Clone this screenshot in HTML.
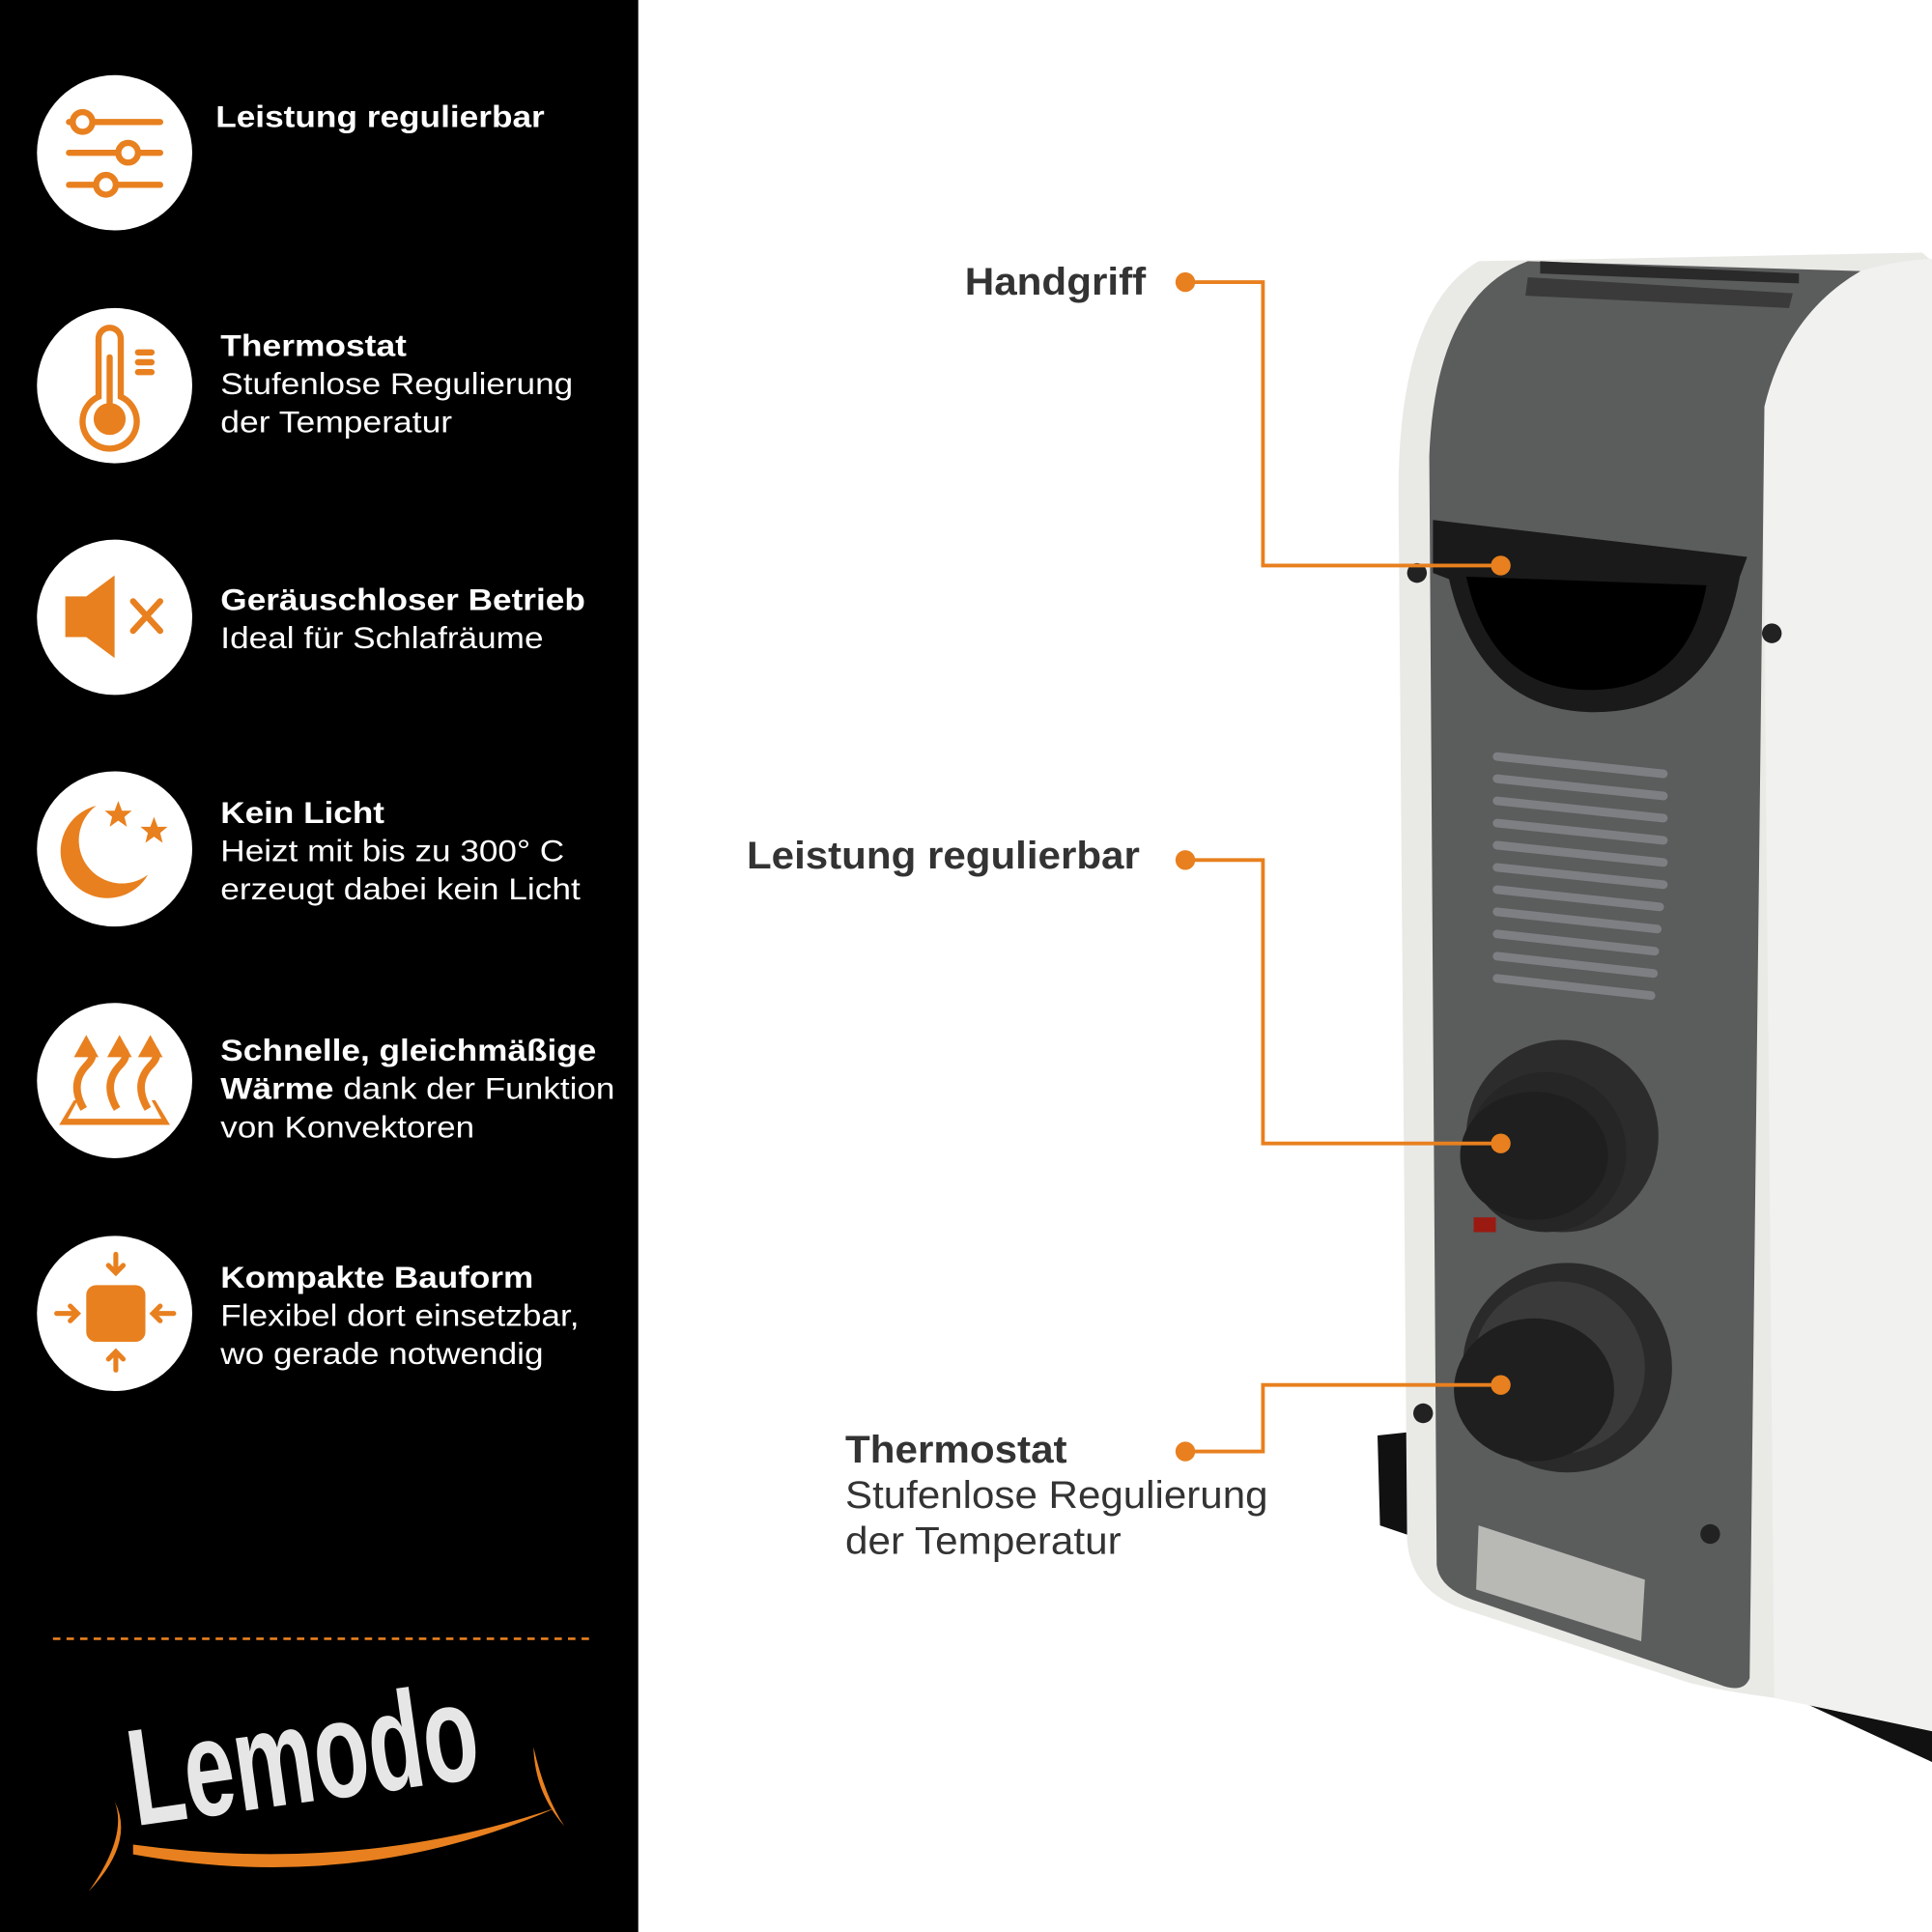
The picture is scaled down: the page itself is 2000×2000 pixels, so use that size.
<!DOCTYPE html>
<html><head><meta charset="utf-8"><style>html,body{margin:0;padding:0;background:#fff}svg{display:block}</style></head>
<body>
<svg width="2000" height="2000" viewBox="0 0 1568 1568" xmlns="http://www.w3.org/2000/svg" font-family="Liberation Sans, Arial, sans-serif">
<rect width="1568" height="1568" fill="#fff"/>
<rect width="518" height="1568" fill="#000"/>

<g fill="#fff">
<circle cx="93" cy="124" r="63"/><circle cx="93" cy="313" r="63"/><circle cx="93" cy="501" r="63"/>
<circle cx="93" cy="689" r="63"/><circle cx="93" cy="877" r="63"/><circle cx="93" cy="1066" r="63"/>
</g>
<g fill="none" stroke="#e8801f" stroke-width="5" stroke-linecap="round">
 <line x1="56" y1="99" x2="130" y2="99"/><line x1="56" y1="124" x2="130" y2="124"/><line x1="56" y1="150" x2="130" y2="150"/>
 <circle cx="67" cy="99" r="8" fill="#fff"/><circle cx="104" cy="124" r="8" fill="#fff"/><circle cx="86" cy="150" r="8" fill="#fff"/>
 <path d="M80,322 L80,275 A9,9 0 0 1 98,275 L98,322 A22,22 0 1 1 80,322 Z"/>
 <line x1="89" y1="290" x2="89" y2="335"/>
 <line x1="112" y1="286" x2="123" y2="286"/><line x1="112" y1="294" x2="123" y2="294"/><line x1="112" y1="302" x2="123" y2="302"/>
 <line x1="108" y1="488" x2="130" y2="512"/><line x1="130" y1="488" x2="108" y2="512"/>
</g>
<circle cx="89" cy="340" r="13" fill="#e8801f"/>
<path d="M53,484 L70,484 L93,467 L93,534 L70,517 L53,517 Z" fill="#e8801f"/>
<path d="M78,654 A38,38 0 1 0 120,710 A32,32 0 1 1 78,654 Z" fill="#e8801f"/>
<polygon points="96,650 99,658 107,658 101,663 103,671 96,666 89,671 91,663 85,658 93,658" fill="#e8801f"/>
<polygon points="125,663 128,671 136,671 130,676 132,684 125,679 118,684 120,676 114,671 122,671" fill="#e8801f"/>
<g fill="none" stroke="#e8801f" stroke-width="6">
 <path d="M68,900 Q56,880 70,865 Q80,855 70,850"/><path d="M95,900 Q83,880 97,865 Q107,855 97,850"/><path d="M120,900 Q108,880 122,865 Q132,855 122,850"/>
</g>
<g fill="#e8801f">
 <polygon points="60,858 70,840 80,858"/><polygon points="87,858 97,840 107,858"/><polygon points="112,858 122,840 132,858"/>
 <polygon points="48,913 60,893 63,893 55,908 131,908 123,893 126,893 138,913"/>
</g>
<rect x="70" y="1043" width="48" height="46" rx="8" fill="#e8801f"/>
<g fill="none" stroke="#e8801f" stroke-width="4" stroke-linecap="round">
 <line x1="94" y1="1018" x2="94" y2="1032"/><polyline points="88,1027 94,1033 100,1027"/>
 <line x1="94" y1="1112" x2="94" y2="1098"/><polyline points="88,1103 94,1097 100,1103"/>
 <line x1="46" y1="1066" x2="62" y2="1066"/><polyline points="57,1060 63,1066 57,1072"/>
 <line x1="141" y1="1066" x2="125" y2="1066"/><polyline points="130,1060 124,1066 130,1072"/>
</g>

<g fill="#fff" font-size="25">
<text x="175" y="103" font-weight="bold" textLength="267" lengthAdjust="spacingAndGlyphs">Leistung regulierbar</text>
<text x="179" y="289" font-weight="bold" textLength="151" lengthAdjust="spacingAndGlyphs">Thermostat</text>
<text x="179" y="320" textLength="286" lengthAdjust="spacingAndGlyphs">Stufenlose Regulierung</text>
<text x="179" y="351" textLength="188" lengthAdjust="spacingAndGlyphs">der Temperatur</text>
<text x="179" y="495" font-weight="bold" textLength="296" lengthAdjust="spacingAndGlyphs">Geräuschloser Betrieb</text>
<text x="179" y="526" textLength="262" lengthAdjust="spacingAndGlyphs">Ideal für Schlafräume</text>
<text x="179" y="668" font-weight="bold" textLength="133" lengthAdjust="spacingAndGlyphs">Kein Licht</text>
<text x="179" y="699" textLength="279" lengthAdjust="spacingAndGlyphs">Heizt mit bis zu 300° C</text>
<text x="179" y="730" textLength="292" lengthAdjust="spacingAndGlyphs">erzeugt dabei kein Licht</text>
<text x="179" y="861" font-weight="bold" textLength="305" lengthAdjust="spacingAndGlyphs">Schnelle, gleichmäßige</text>
<text x="179" y="892" textLength="320" lengthAdjust="spacingAndGlyphs"><tspan font-weight="bold">Wärme</tspan> dank der Funktion</text>
<text x="179" y="923" textLength="206" lengthAdjust="spacingAndGlyphs">von Konvektoren</text>
<text x="179" y="1045" font-weight="bold" textLength="254" lengthAdjust="spacingAndGlyphs">Kompakte Bauform</text>
<text x="179" y="1076" textLength="291" lengthAdjust="spacingAndGlyphs">Flexibel dort einsetzbar,</text>
<text x="179" y="1107" textLength="262" lengthAdjust="spacingAndGlyphs">wo gerade notwendig</text>
</g>
<line x1="43" y1="1330" x2="483" y2="1330" stroke="#e8801f" stroke-width="2" stroke-dasharray="6,5"/>

<text x="0" y="0" fill="#e6e6e6" font-size="112" font-weight="bold" transform="translate(110,1482) rotate(-8)" textLength="285" lengthAdjust="spacingAndGlyphs">Lemodo</text>
<path d="M108,1497 Q290,1522 452,1467 Q290,1538 108,1505 Z" fill="#e8801f"/>
<path d="M93,1462 Q104,1490 72,1535 Q110,1495 93,1462 Z" fill="#e8801f"/>
<path d="M433,1418 Q434,1455 458,1482 Q442,1458 433,1418 Z" fill="#e8801f"/>

<path d="M1118,1165 L1165,1160 L1170,1255 L1120,1238 Z" fill="#111"/>
<path d="M1430,1230 L1568,1250 L1568,1430 L1460,1380 L1430,1360 Z" fill="#111"/>
<path d="M1135,400 Q1135,250 1200,212 L1560,205 L1568,212 L1568,1405 L1440,1378 Q1380,1370 1360,1362 L1185,1305 Q1145,1290 1142,1250 Z" fill="#e9e9e6"/>
<path d="M1430,270 Q1480,215 1568,210 L1568,1405 L1440,1378 Z" fill="#f1f1f0"/>
<path d="M1160,370 Q1165,240 1240,212 L1510,220 Q1450,255 1432,330 L1420,1362 Q1415,1375 1395,1367 L1200,1300 Q1168,1290 1166,1270 Z" fill="#5b5c5c"/>
<path d="M1240,225 L1455,238 L1452,250 L1238,240 Z" fill="#3a3a3a"/>
<path d="M1250,212 L1460,222 L1460,230 L1250,222 Z" fill="#2a2a2a"/>
<path d="M1163,422 L1418,452 L1412,468 Q1392,580 1290,578 Q1200,575 1176,470 L1163,465 Z" fill="#1a1a1a"/>
<path d="M1190,468 Q1210,560 1290,560 Q1370,560 1385,475 Z" fill="#000"/>
<g stroke="#7d7f82" stroke-width="7" stroke-linecap="round">
<line x1="1215" y1="614" x2="1350" y2="628"/><line x1="1215" y1="632" x2="1350" y2="646"/><line x1="1215" y1="650" x2="1350" y2="664"/>
<line x1="1215" y1="668" x2="1350" y2="682"/><line x1="1215" y1="686" x2="1350" y2="700"/><line x1="1215" y1="704" x2="1350" y2="718"/>
<line x1="1215" y1="722" x2="1347" y2="736"/><line x1="1215" y1="740" x2="1345" y2="754"/><line x1="1215" y1="758" x2="1343" y2="772"/>
<line x1="1215" y1="776" x2="1342" y2="790"/><line x1="1215" y1="794" x2="1340" y2="808"/>
</g>
<circle cx="1268" cy="922" r="78" fill="#2c2c2c"/>
<circle cx="1255" cy="935" r="65" fill="#262626"/>
<ellipse cx="1245" cy="938" rx="60" ry="52" fill="#1f1f1f"/>
<rect x="1196" y="988" width="18" height="12" fill="#9a1a12"/>
<circle cx="1272" cy="1110" r="85" fill="#2a2a2a"/>
<circle cx="1265" cy="1110" r="70" fill="#3a3a3a"/>
<ellipse cx="1245" cy="1128" rx="65" ry="58" fill="#1f1f1f"/>
<path d="M1200,1238 L1335,1282 L1332,1332 L1198,1290 Z" fill="#b8b8b5"/>
<g fill="#222"><circle cx="1150" cy="465" r="8"/><circle cx="1438" cy="514" r="8"/><circle cx="1155" cy="1147" r="8"/><circle cx="1388" cy="1245" r="8"/></g>

<g stroke="#e8801f" stroke-width="3" fill="none">
<polyline points="962,229 1025,229 1025,459 1218,459"/>
<polyline points="962,698 1025,698 1025,928 1218,928"/>
<polyline points="962,1178 1025,1178 1025,1124 1218,1124"/>
</g>
<g fill="#e8801f">
<circle cx="962" cy="229" r="8"/><circle cx="1218" cy="459" r="8"/>
<circle cx="962" cy="698" r="8"/><circle cx="1218" cy="928" r="8"/>
<circle cx="962" cy="1178" r="8"/><circle cx="1218" cy="1124" r="8"/>
</g>
<g fill="#333" font-size="31">
<text x="783" y="239" font-weight="bold" textLength="147" lengthAdjust="spacingAndGlyphs">Handgriff</text>
<text x="606" y="705" font-weight="bold" textLength="319" lengthAdjust="spacingAndGlyphs">Leistung regulierbar</text>
<text x="686" y="1187" font-weight="bold" textLength="180" lengthAdjust="spacingAndGlyphs">Thermostat</text>
<text x="686" y="1224" textLength="343" lengthAdjust="spacingAndGlyphs">Stufenlose Regulierung</text>
<text x="686" y="1261" textLength="224" lengthAdjust="spacingAndGlyphs">der Temperatur</text>
</g>
</svg>
</body></html>
